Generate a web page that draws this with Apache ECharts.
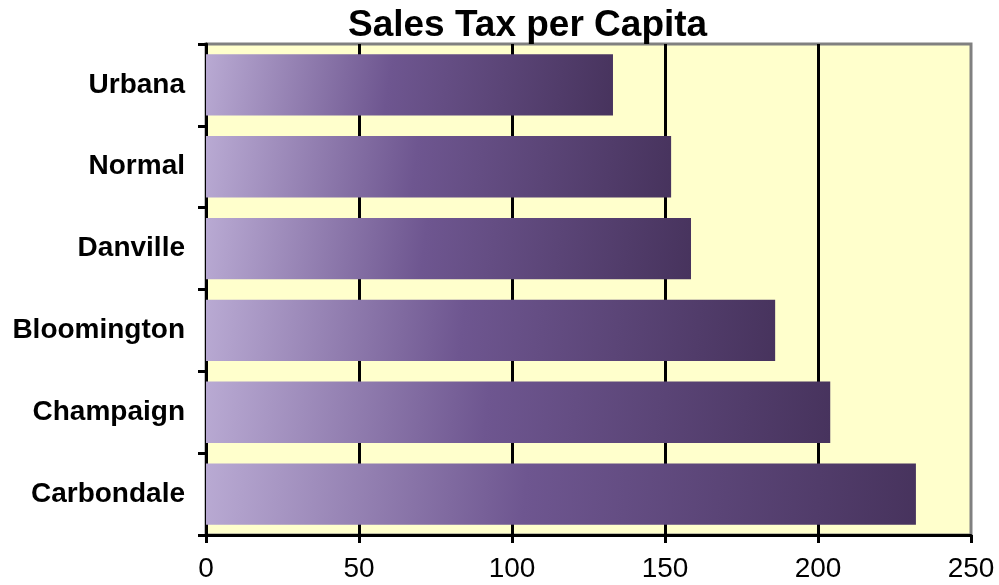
<!DOCTYPE html>
<html>
<head>
<meta charset="utf-8">
<script src="https://cdn.jsdelivr.net/npm/echarts@6/dist/echarts.min.js"></script>
<style>
  html, body { margin: 0; padding: 0; background: #fff; }
  #chart { width: 999px; height: 585px; }
</style>
</head>
<body>
<div id="chart"></div>
<script>
// cities top to bottom
const cities = ["Urbana", "Normal", "Danville", "Bloomington", "Champaign", "Carbondale"];
const salesTax = [133, 152, 158.5, 186, 204, 232];
const xTicks = [0, 50, 100, 150, 200, 250];

const myChart = echarts.init(document.getElementById("chart"));

const barColor = new echarts.graphic.LinearGradient(0, 0, 1, 1, [
  { offset: 0, color: "#b9aad3" },
  { offset: 0.45, color: "#6e5690" },
  { offset: 1, color: "#47335d" },
]);

const option = {
  animation: false,
  title: {
    text: "Sales Tax per Capita",
    left: 343,
    top: 2,
    textStyle: {
      fontFamily: "Liberation Sans",
      fontWeight: "bold",
      fontSize: 37,
      color: "#000",
    },
  },
  grid: {
    left: 206,
    right: 28,
    top: 44,
    bottom: 50,
    show: true,
    backgroundColor: "#ffffcc",
    borderColor: "#808080",
    borderWidth: 3,
  },
  xAxis: {
    type: "value",
    min: xTicks[0],
    max: xTicks[xTicks.length - 1],
    interval: 50,
    axisLine: { show: true, lineStyle: { color: "#000", width: 3 } },
    axisTick: { show: true, length: 8, lineStyle: { color: "#000", width: 3 } },
    axisLabel: {
      fontFamily: "Liberation Sans",
      fontSize: 28,
      color: "#000",
      margin: 20,
    },
    splitLine: {
      show: true,
      showMinLine: false,
      showMaxLine: false,
      lineStyle: { color: "#000", width: 3 },
    },
  },
  yAxis: {
    type: "category",
    inverse: true,
    data: cities,
    axisLine: { show: true, lineStyle: { color: "#000", width: 3 } },
    axisTick: { show: true, length: 8, alignWithLabel: false, lineStyle: { color: "#000", width: 3 } },
    axisLabel: {
      fontFamily: "Liberation Sans",
      fontWeight: "bold",
      fontSize: 28,
      color: "#000",
      margin: 21,
    },
    splitLine: { show: false },
  },
  series: [
    {
      type: "bar",
      data: salesTax,
      barCategoryGap: "25%",
      itemStyle: { color: barColor },
    },
  ],
};

myChart.setOption(option);
</script>
</body>
</html>
